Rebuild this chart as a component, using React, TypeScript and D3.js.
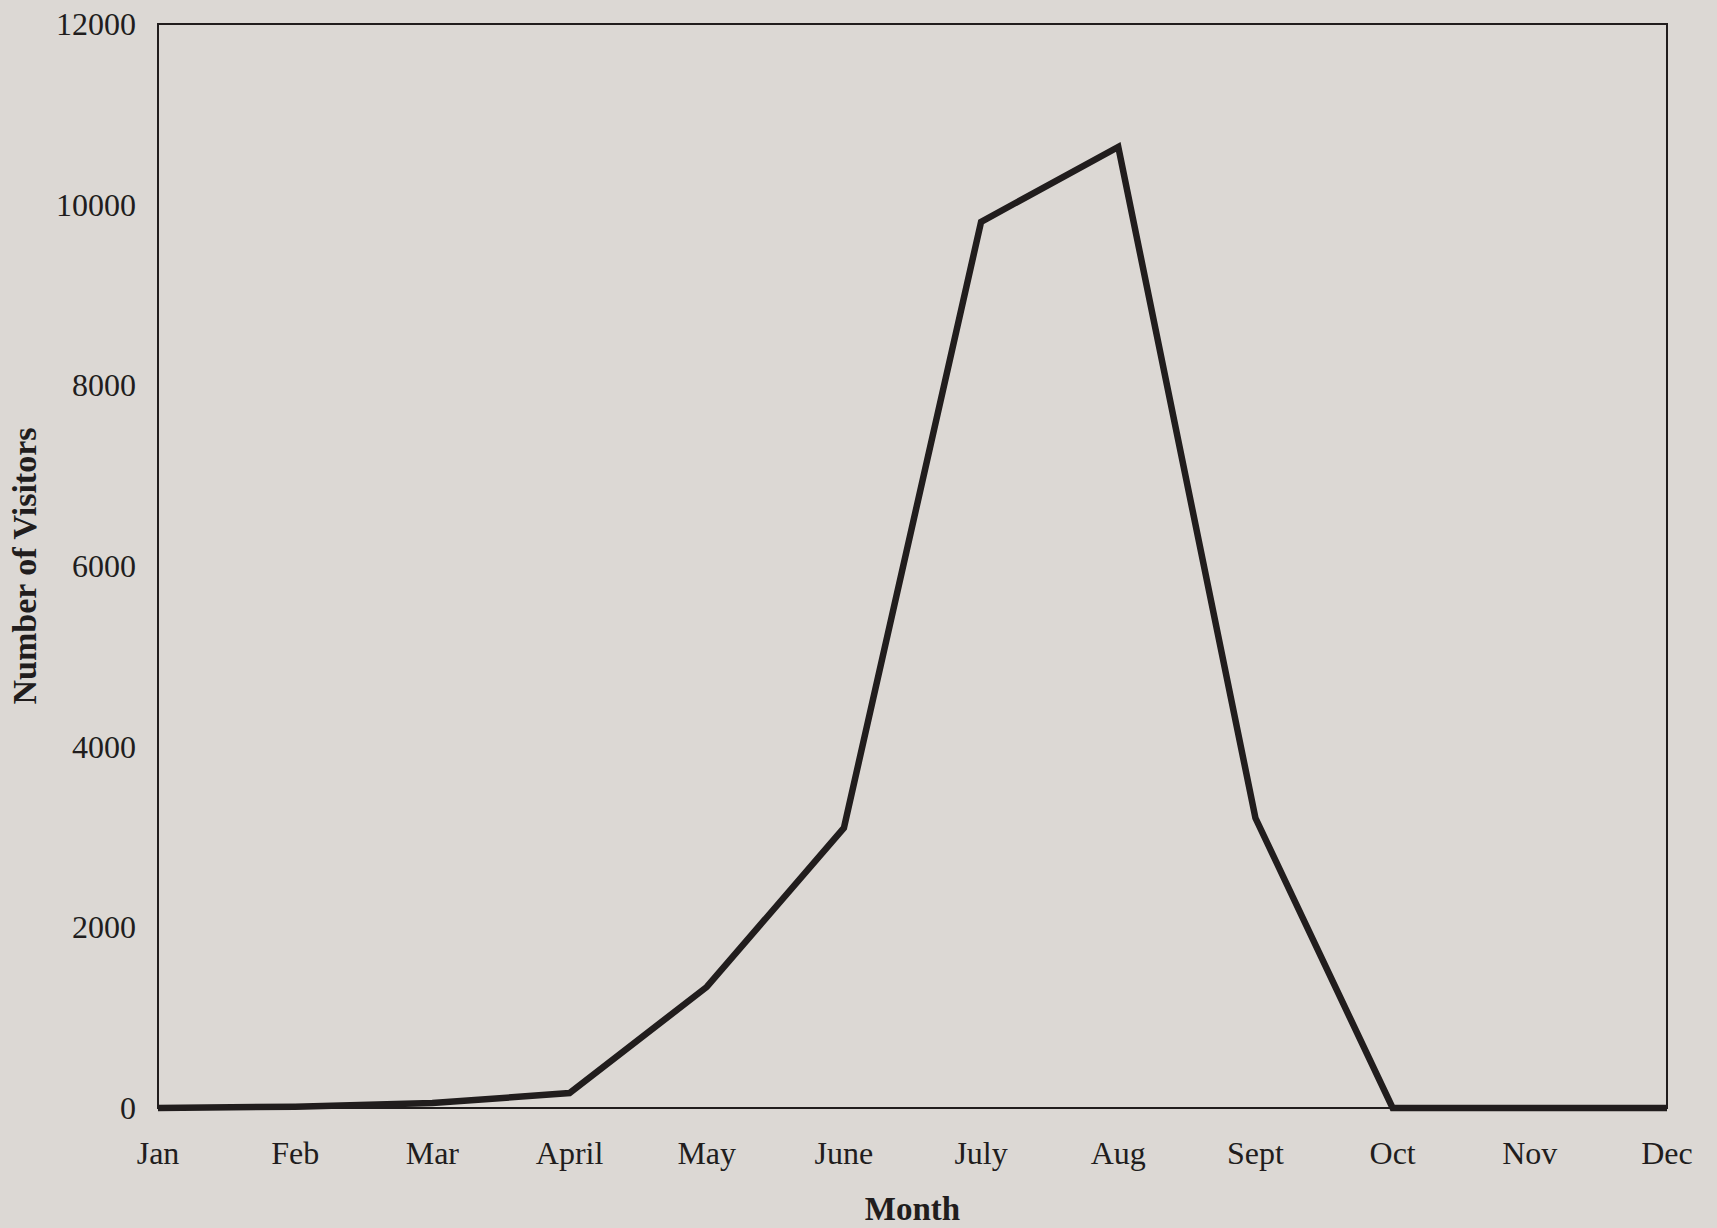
import React from "react";
import * as d3 from "d3";

const months = ["Jan", "Feb", "Mar", "April", "May", "June", "July", "Aug", "Sept", "Oct", "Nov", "Dec"];
const visitors = [0, 15, 55, 165, 1340, 3100, 9810, 10640, 3210, 0, 0, 0];
const yTicks = [0, 2000, 4000, 6000, 8000, 10000, 12000];

const W = 1717;
const H = 1228;
const M = { left: 158, right: 1667, top: 24, bottom: 1108 };
const FONT = "'Liberation Serif', 'Times New Roman', serif";
const INK = "#211d1d";

export default function App() {
  const x = d3.scalePoint<string>().domain(months).range([M.left, M.right]).padding(0);
  const y = d3.scaleLinear().domain([0, 12000]).range([M.bottom, M.top]);
  const line = d3
    .line<number>()
    .x((_, i) => x(months[i]) as number)
    .y((d) => y(d));

  return (
    <svg
      width={W}
      height={H}
      style={{ position: "absolute", left: 0, top: 0, background: "#dcd8d4" }}
    >
      <rect x={0} y={0} width={W} height={H} fill="#dcd8d4" />
      {/* plot frame */}
      <rect
        x={M.left}
        y={M.top}
        width={M.right - M.left}
        height={M.bottom - M.top}
        fill="none"
        stroke={INK}
        strokeWidth={2}
      />
      {/* y tick labels */}
      {yTicks.map((t) => (
        <text
          key={t}
          x={M.left - 22}
          y={y(t)}
          dy="0.34em"
          textAnchor="end"
          fontFamily={FONT}
          fontSize={32}
          fill={INK}
        >
          {t}
        </text>
      ))}
      {/* x tick labels */}
      {months.map((m) => (
        <text
          key={m}
          x={x(m) as number}
          y={M.bottom + 56}
          textAnchor="middle"
          fontFamily={FONT}
          fontSize={32}
          fill={INK}
        >
          {m}
        </text>
      ))}
      {/* data line */}
      <path
        d={line(visitors) || ""}
        fill="none"
        stroke={INK}
        strokeWidth={6.5}
        strokeLinejoin="miter"
        strokeLinecap="butt"
      />
      {/* axis titles */}
      <text
        x={(M.left + M.right) / 2}
        y={1220}
        textAnchor="middle"
        fontFamily={FONT}
        fontSize={33}
        fontWeight="bold"
        fill={INK}
      >
        Month
      </text>
      <text
        transform={`translate(36, ${(M.top + M.bottom) / 2}) rotate(-90)`}
        textAnchor="middle"
        fontFamily={FONT}
        fontSize={34}
        fontWeight="bold"
        fill={INK}
      >
        Number of Visitors
      </text>
    </svg>
  );
}
